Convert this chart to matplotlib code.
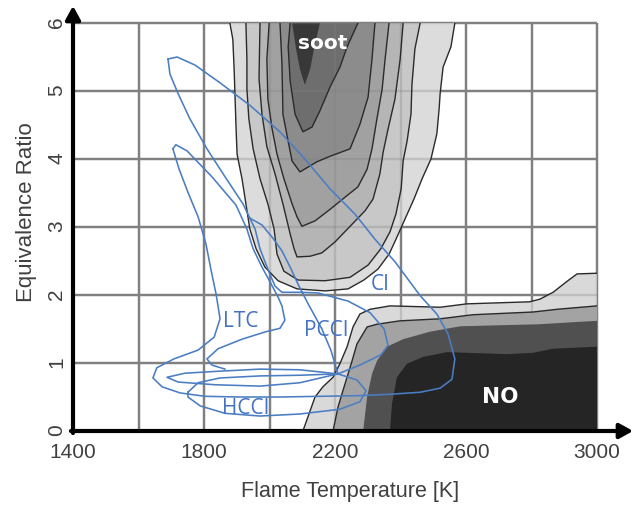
import matplotlib
matplotlib.use('Agg')
import matplotlib.pyplot as plt

plt.rcParams['font.family'] = ['Liberation Sans', 'DejaVu Sans']

# axes ticks and grid (flame temperature [K], equivalence ratio)
tempTicks = [1400, 1800, 2200, 2600, 3000]
phiTicks = [0, 1, 2, 3, 4, 5, 6]
gridTemps = [1400, 1600, 1800, 2000, 2200, 2400, 2600, 2800, 3000]
gridPhis = [0, 1, 2, 3, 4, 5, 6]

# soot iso-contours, outer to inner
soot1_T = [1879, 1888, 1892, 1895, 1898, 1901, 1916, 1928, 1940, 1959, 1986, 2026, 2084, 2170, 2240,
	2288, 2331, 2365, 2389, 2414, 2441, 2466, 2493, 2511, 2518, 2521, 2530, 2554, 2566]
soot1_phi = [6.0, 5.76, 5.32, 4.88, 4.44, 4.07, 3.71, 3.34, 2.97, 2.68, 2.41, 2.21, 2.09, 2.06, 2.09,
	2.22, 2.38, 2.60, 2.85, 3.12, 3.41, 3.71, 4.0, 4.37, 4.74, 4.96, 5.35, 5.65, 6.0]
soot2_T = [1928, 1931, 1931, 1937, 1950, 1971, 1995, 2014, 2023, 2044, 2087, 2170, 2246, 2301, 2340,
	2368, 2386, 2402, 2408, 2420, 2432, 2435, 2444, 2460]
soot2_phi = [6.0, 5.47, 5.03, 4.59, 4.15, 3.71, 3.34, 2.97, 2.60, 2.35, 2.22, 2.21, 2.26, 2.44, 2.68,
	2.93, 3.19, 3.56, 3.97, 4.26, 4.66, 5.10, 5.62, 6.0]
soot3_T = [1971, 1968, 1977, 1992, 2017, 2041, 2063, 2075, 2084, 2124, 2160, 2200, 2246, 2292, 2316,
	2337, 2347, 2362, 2383, 2399, 2408]
soot3_phi = [6.0, 5.18, 4.66, 4.18, 3.78, 3.34, 2.90, 2.68, 2.56, 2.57, 2.62, 2.78, 3.01, 3.24, 3.41,
	3.78, 4.10, 4.44, 4.88, 5.47, 6.0]
soot4_T = [1999, 1992, 1995, 2008, 2023, 2044, 2069, 2084, 2099, 2139, 2185, 2231, 2270, 2298, 2313,
	2328, 2344, 2353, 2365]
soot4_phi = [6.0, 5.47, 4.88, 4.44, 4.07, 3.71, 3.34, 3.15, 3.01, 3.09, 3.26, 3.44, 3.59, 3.85, 4.15,
	4.59, 5.03, 5.47, 6.0]
soot5_T = [2032, 2038, 2041, 2057, 2069, 2093, 2145, 2185, 2246, 2276, 2301, 2313, 2322]
soot5_phi = [6.0, 5.40, 4.66, 4.26, 3.97, 3.81, 3.96, 4.04, 4.15, 4.51, 4.91, 5.47, 6.0]
soot6_T = [2063, 2057, 2063, 2078, 2102, 2130, 2154, 2185, 2215, 2237, 2270]
soot6_phi = [6.0, 5.65, 5.15, 4.66, 4.40, 4.47, 4.71, 5.06, 5.35, 5.65, 6.0]
sootCore_T = [2069, 2081, 2093, 2108, 2124, 2139, 2154]
sootCore_phi = [6.0, 5.62, 5.32, 5.09, 5.32, 5.69, 6.0]

sootColors = ['#dcdcdc', '#c8c8c8', '#b5b5b5', '#a1a1a1', '#8c8c8c', '#6e6e6e']
sootCoreColor = '#383838'

# NO iso-contours, outer to inner
no1_T = [2102, 2139, 2163, 2194, 2215, 2237, 2255, 2276, 2307, 2368, 2521, 2603, 2795, 2826, 2866,
	2887, 2911, 2939, 3000, 3000]
no1_phi = [0, 0.50, 0.65, 0.79, 0.99, 1.24, 1.53, 1.72, 1.79, 1.84, 1.82, 1.87, 1.90, 1.94, 2.04,
	2.12, 2.21, 2.31, 2.32, 0]
no2_T = [2194, 2209, 2224, 2252, 2267, 2298, 2328, 2398, 2521, 2621, 2805, 2878, 3000, 3000]
no2_phi = [0, 0.35, 0.59, 1.03, 1.28, 1.53, 1.57, 1.62, 1.65, 1.71, 1.75, 1.79, 1.84, 0]
no3_T = [2286, 2298, 2313, 2328, 2359, 2408, 2490, 2582, 2826, 2927, 3000, 3000]
no3_phi = [0, 0.50, 0.84, 1.03, 1.24, 1.35, 1.46, 1.54, 1.57, 1.60, 1.62, 0]
no4_T = [2368, 2374, 2389, 2420, 2469, 2542, 2725, 2805, 2866, 3000, 3000]
no4_phi = [0, 0.40, 0.79, 0.99, 1.09, 1.16, 1.13, 1.15, 1.21, 1.24, 0]

noColors = ['#d9d9d9', '#a3a3a3', '#505050', '#252525']

# combustion mode trajectories
ci_T = [1690, 1718, 1773, 1849, 1940, 2032, 2108, 2185, 2261, 2322, 2383, 2460, 2511, 2545, 2566,
	2557, 2521, 2460, 2368, 2276, 2154, 2032, 1910, 1803, 1727, 1672, 1644, 1656, 1708, 1782,
	1831, 1849, 1837, 1821, 1806, 1782, 1751, 1724, 1705]
ci_phi = [5.47, 5.50, 5.38, 5.12, 4.79, 4.40, 4.00, 3.56, 3.19, 2.82, 2.49, 1.99, 1.72, 1.43, 1.06,
	0.76, 0.63, 0.57, 0.54, 0.52, 0.51, 0.50, 0.50, 0.51, 0.56, 0.65, 0.78, 0.93, 1.06, 1.19,
	1.38, 1.65, 2.01, 2.38, 2.75, 3.15, 3.51, 3.85, 4.15]
ltc_T = [1705, 1714, 1748, 1824, 1898, 1931, 1950, 1977, 2002, 2026, 2038, 2047, 2032, 1989, 1916,
	1843, 1809, 1824, 1864]
ltc_phi = [4.15, 4.21, 4.12, 3.74, 3.32, 2.97, 2.68, 2.41, 2.19, 1.97, 1.84, 1.63, 1.51, 1.46, 1.35,
	1.21, 1.06, 0.97, 0.91]
pcci_T = [1690, 1696, 1721, 1757, 1809, 1864, 1919, 1956, 1971, 1995, 2017, 2038, 2093, 2148, 2240,
	2307, 2350, 2362, 2340, 2276, 2209, 2188, 2160, 2118, 2087, 2063, 2038, 2008, 1977, 1940]
pcci_phi = [5.47, 5.25, 4.96, 4.59, 4.15, 3.74, 3.34, 2.97, 2.68, 2.38, 2.13, 2.04, 2.04, 2.03, 1.91,
	1.74, 1.50, 1.26, 1.12, 0.97, 0.84, 1.18, 1.50, 1.87, 2.16, 2.41, 2.65, 2.85, 3.03, 3.13]
hcci_T = [1751, 1782, 1849, 1971, 2093, 2209, 2267, 2295, 2276, 2215, 2093, 1971, 1864, 1788, 1751, 1751]
hcci_phi = [0.57, 0.71, 0.78, 0.81, 0.82, 0.84, 0.75, 0.59, 0.43, 0.32, 0.25, 0.22, 0.26, 0.37, 0.50, 0.57]
ltcLow_T = [2209, 2093, 1971, 1849, 1742, 1687, 1721, 1834, 1971, 2093, 2209]
ltcLow_phi = [0.84, 0.90, 0.91, 0.88, 0.85, 0.79, 0.72, 0.68, 0.66, 0.71, 0.84]

modeNames = ['CI', 'LTC', 'PCCI', 'HCCI']
modeNameT = [2337, 1913, 2172, 1928]
modeNamePhi = [2.17, 1.62, 1.49, 0.34]

lineBlue = '#4a7dc2'
contourLine = '#2a2a2a'


def drawGrid(ax, alpha, zorder):
	ax.vlines(gridTemps, 0, 6, colors='#808080', linewidth=1.7, alpha=alpha, zorder=zorder, clip_on=False)
	ax.hlines(gridPhis, 1400, 3000, colors='#808080', linewidth=1.7, alpha=alpha, zorder=zorder, clip_on=False)


fig = plt.figure(figsize=(6.35, 5.06), dpi=100)
ax = fig.add_axes([73 / 635, 74 / 506, 524 / 635, 408 / 506])
ax.set_xlim(1400, 3000)
ax.set_ylim(0, 6)
for s in ax.spines.values():
	s.set_visible(False)

drawGrid(ax, 1.0, 0.5)

# soot island
sootT = [soot1_T, soot2_T, soot3_T, soot4_T, soot5_T, soot6_T]
sootPhi = [soot1_phi, soot2_phi, soot3_phi, soot4_phi, soot5_phi, soot6_phi]
for T, phi, c in zip(sootT, sootPhi, sootColors):
	ax.fill(T, phi, color=c, lw=0, zorder=1)
ax.fill(sootCore_T, sootCore_phi, color=sootCoreColor, lw=0, zorder=1)

# NO peninsula, light band first so the grid shows through it
ax.fill(no1_T, no1_phi, color=noColors[0], lw=0, zorder=1.2)
drawGrid(ax, 0.3, 1.5)
for T, phi, c in zip([no2_T, no3_T, no4_T], [no2_phi, no3_phi, no4_phi], noColors[1:]):
	ax.fill(T, phi, color=c, lw=0, zorder=2)

# contour outlines
for T, phi in zip(sootT, sootPhi):
	ax.plot(T, phi, color=contourLine, lw=1.0, zorder=3)
ax.plot(no1_T[:-1], no1_phi[:-1], color=contourLine, lw=1.0, zorder=3)
ax.plot(no2_T[:-1], no2_phi[:-1], color=contourLine, lw=1.0, zorder=3)

# combustion mode loops
for T, phi in [(ci_T, ci_phi), (ltc_T, ltc_phi), (pcci_T, pcci_phi), (hcci_T, hcci_phi), (ltcLow_T, ltcLow_phi)]:
	ax.plot(T, phi, color=lineBlue, lw=1.15, zorder=4, solid_joinstyle='round')

for name, t, p in zip(modeNames, modeNameT, modeNamePhi):
	ax.text(t, p, name, color='#4472c4', fontsize=15, family='Open Sans', ha='center', va='center', zorder=5)

ax.text(2163, 5.72, 'soot', color='white', fontsize=14.5, family='DejaVu Sans', weight='bold',
	ha='center', va='center', zorder=5)
ax.text(2704, 0.52, 'NO', color='white', fontsize=15.5, family='DejaVu Sans', weight='bold',
	ha='center', va='center', zorder=5)

# arrowed axes
arrowProps = dict(arrowstyle='-|>,head_length=0.4,head_width=0.22', lw=3, color='k',
	shrinkA=0, shrinkB=0, mutation_scale=20)
ax.annotate('', xy=(1.069, 0), xytext=(-0.004, 0), xycoords='axes fraction',
	arrowprops=arrowProps, annotation_clip=False, zorder=6)
ax.annotate('', xy=(0, 1.042), xytext=(0, -0.005), xycoords='axes fraction',
	arrowprops=arrowProps, annotation_clip=False, zorder=6)

ax.set_xticks(tempTicks)
ax.set_xticklabels([str(t) for t in tempTicks])
ax.set_yticks(phiTicks)
ax.set_yticklabels([str(p) for p in phiTicks])
ax.tick_params(length=0, pad=8, labelsize=15, labelcolor='#404040')
ax.tick_params(axis='y', labelrotation=90, pad=5)

ax.set_xlabel('Flame Temperature [K]', fontsize=15.5, color='#404040')
ax.set_ylabel('Equivalence Ratio', fontsize=16, color='#404040')
ax.xaxis.set_label_coords(0.5286, -0.12)
ax.yaxis.set_label_coords(-0.068, 0.539)

fig.savefig('out.png', dpi=100)
